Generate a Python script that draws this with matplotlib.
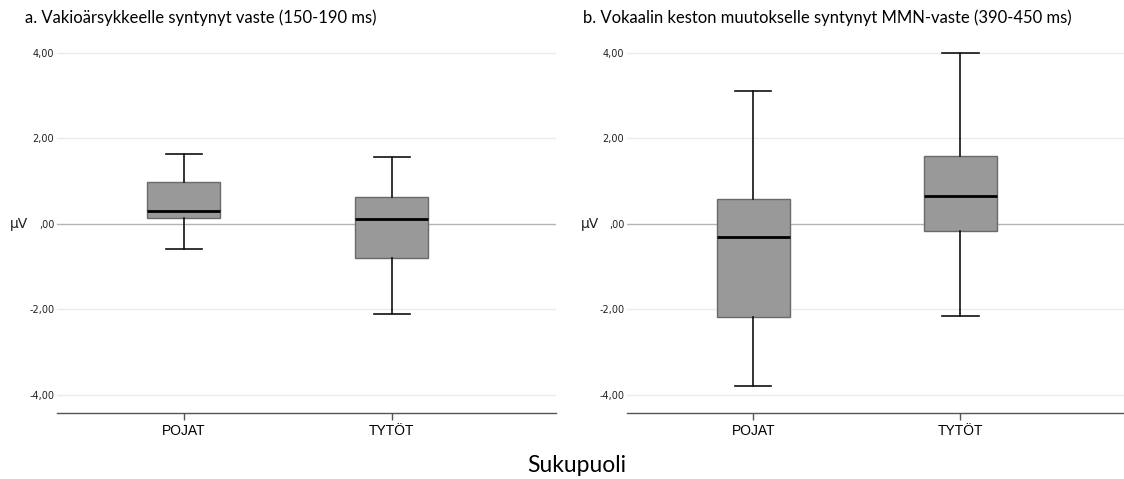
import matplotlib.pyplot as plt

# values (microvolts)
groups = ["POJAT", "TYTÖT"]
titles = ["a. Vakioärsykkeelle syntynyt vaste (150-190 ms)",
          "b. Vokaalin keston muutokselle syntynyt MMN-vaste (390-450 ms)"]

a_whislo = [-0.59, -2.11]
a_q1     = [0.15, -0.79]
a_med    = [0.30, 0.12]
a_q3     = [0.97, 0.62]
a_whishi = [1.64, 1.57]

b_whislo = [-3.78, -2.16]
b_q1     = [-2.17, -0.16]
b_med    = [-0.30, 0.66]
b_q3     = [0.59, 1.59]
b_whishi = [3.11, 4.00]

yticks = [-4, -2, 0, 2, 4]
ytick_labels = ["-4,00", "-2,00", ",00", "2,00", "4,00"]

TITLE_FONT = ["Lato", "DejaVu Sans"]


def make_stats(lo, q1, med, q3, hi):
    return [dict(whislo=lo[i], q1=q1[i], med=med[i], q3=q3[i], whishi=hi[i], fliers=[], label=groups[i])
            for i in range(len(groups))]


fig = plt.figure(figsize=(11.24, 4.79), dpi=100)
ax_a = fig.add_axes([57 / 1124, 66 / 479, 499 / 1124, 373 / 479])
ax_b = fig.add_axes([627 / 1124, 66 / 479, 497 / 1124, 373 / 479])

panels = [
    (ax_a, make_stats(a_whislo, a_q1, a_med, a_q3, a_whishi)),
    (ax_b, make_stats(b_whislo, b_q1, b_med, b_q3, b_whishi)),
]

for ax, stats in panels:
    for y in yticks:
        if y == 0:
            ax.axhline(y, color="#b4b4b4", lw=1.0, zorder=0)
        else:
            ax.axhline(y, color="#ebebeb", lw=1.0, zorder=0)
    ax.bxp(stats, positions=[0, 1], widths=0.35, patch_artist=True, showfliers=False,
           boxprops=dict(facecolor="#999999", edgecolor="#6a6a6a", lw=1.0),
           medianprops=dict(color="black", lw=2.0),
           whiskerprops=dict(color="#111111", lw=1.2),
           capprops=dict(color="#111111", lw=1.2),
           capwidths=0.175)
    ax.set_xlim(-0.61, 1.79)
    ax.set_ylim(-4.42, 4.3)
    ax.set_yticks(yticks)
    ax.set_yticklabels(ytick_labels)
    ax.tick_params(axis="y", length=0, pad=2, labelsize=7, labelcolor="#222222")
    ax.tick_params(axis="x", length=5, width=1, color="#555555", pad=3, labelsize=10)
    ax.set_xticks([0, 1])
    ax.set_xticklabels(groups, family=["Liberation Sans", "DejaVu Sans"])
    for s in ["top", "right", "left"]:
        ax.spines[s].set_visible(False)
    ax.spines["bottom"].set_color("#555555")
    ax.spines["bottom"].set_linewidth(1.0)

fig.text(25 / 1124, 1 - 18 / 479, titles[0], fontsize=12, va="center", ha="left", family=TITLE_FONT)
fig.text(583 / 1124, 1 - 18 / 479, titles[1], fontsize=12, va="center", ha="left", family=TITLE_FONT)
fig.text(10 / 1124, 1 - 224 / 479, "µV", fontsize=10, va="center", ha="left", color="#222222")
fig.text(581 / 1124, 1 - 224 / 479, "µV", fontsize=10, va="center", ha="left", color="#222222")
fig.text(577 / 1124, 1 - 465 / 479, "Sukupuoli", fontsize=16.5, va="center", ha="center", family=TITLE_FONT)

fig.savefig("out.png", dpi=100)
